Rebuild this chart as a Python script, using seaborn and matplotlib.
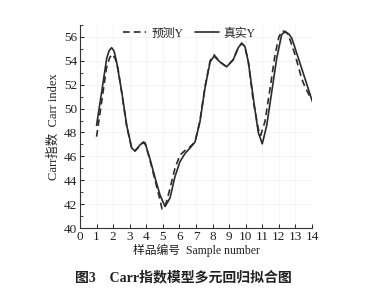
import matplotlib
matplotlib.use("Agg")
import matplotlib.pyplot as plt
import seaborn as sns
import pandas as pd
from matplotlib.ticker import MultipleLocator

# True values (solid)
true_x = [1.0, 1.31, 1.61, 1.76, 1.91, 2.06, 2.21, 2.52, 2.82, 3.12, 3.32, 3.62, 3.82, 3.92,
          4.22, 4.53, 4.83, 5.13, 5.43, 5.73, 6.03, 6.34, 6.64, 6.94, 7.24, 7.54, 7.85,
          8.09, 8.45, 8.85, 9.25, 9.55, 9.76, 9.95, 10.16, 10.46, 10.76, 11.0, 11.27, 11.57,
          11.87, 12.17, 12.29, 12.41, 12.6, 12.78, 13.18, 13.58, 14.02]
true_y = [48.6, 51.4, 54.2, 54.85, 55.1, 54.8, 53.9, 51.4, 48.6, 46.7, 46.45, 46.95, 47.2, 47.15,
          45.8, 44.2, 42.76, 41.8, 42.5, 44.3, 45.55, 46.25, 46.7, 47.2, 48.9, 51.7, 53.9,
          54.4, 53.9, 53.5, 54.1, 55.1, 55.47, 55.2, 53.9, 50.86, 48.0, 47.05, 48.6, 51.4,
          54.2, 56.2, 56.35, 56.4, 56.25, 55.9, 54.2, 52.5, 50.6]

# Predicted values (dashed)
pred_x = [1.0, 1.3, 1.6, 1.8, 1.97, 2.15, 2.3, 2.52, 2.82, 3.12, 3.32, 3.62, 3.82, 3.95,
          4.22, 4.53, 4.83, 4.95, 5.13, 5.43, 5.73, 6.03, 6.34, 6.64, 6.94, 7.24, 7.54,
          7.85, 8.09, 8.45, 8.85, 9.25, 9.55, 9.76, 9.95, 10.16, 10.46, 10.76, 10.9, 11.16,
          11.47, 11.77, 12.0, 12.2, 12.4, 12.57, 12.98, 13.38, 13.58, 13.88, 14.0]
pred_y = [47.65, 50.5, 53.4, 54.3, 54.55, 54.1, 53.3, 51.3, 48.5, 46.7, 46.45, 46.9, 47.15, 47.0,
          45.7, 44.0, 42.35, 41.6, 41.75, 43.3, 45.0, 46.1, 46.5, 46.8, 47.2, 49.0, 51.8,
          54.0, 54.5, 53.9, 53.5, 54.1, 55.1, 55.47, 55.2, 53.9, 50.6, 48.3, 47.75, 48.9,
          51.7, 54.5, 56.0, 56.5, 56.45, 56.2, 54.5, 52.5, 51.8, 51.0, 50.8]

series_labels = ["预测Y", "真实Y"]
x_ticks = list(range(0, 15))
y_ticks = list(range(40, 57, 2))

sns.set_theme(style="white")
plt.rcParams["font.family"] = ["Liberation Serif", "Noto Sans CJK SC"]
plt.rcParams["axes.unicode_minus"] = False

fig = plt.figure(figsize=(3.78, 2.89), dpi=100)
ax = fig.add_axes([0.2116, 0.211, 0.6138, 0.7025])

df_pred = pd.DataFrame({"x": pred_x, "y": pred_y})
df_true = pd.DataFrame({"x": true_x, "y": true_y})

col = "#2b2b2b"
sns.lineplot(data=df_pred, x="x", y="y", ax=ax, sort=False, color=col, lw=1.2,
             linestyle=(0, (4, 2.5)), label=series_labels[0])
sns.lineplot(data=df_true, x="x", y="y", ax=ax, sort=False, color=col, lw=1.2,
             label=series_labels[1])

ax.set_xlim(0, 14)
ax.set_ylim(40, 57)
ax.set_xticks(x_ticks)
ax.set_yticks(y_ticks)
ax.yaxis.set_minor_locator(MultipleLocator(1))
ax.tick_params(axis="both", which="major", direction="in", length=3, width=0.7,
               labelsize=9.5, colors="#222222", pad=2)
ax.tick_params(axis="y", which="minor", direction="in", length=2, width=0.6, left=True)
ax.tick_params(axis="x", bottom=True)
ax.tick_params(axis="y", left=True)

for s in ["top", "right"]:
    ax.spines[s].set_visible(False)
for s in ["left", "bottom"]:
    ax.spines[s].set_color("#333333")
    ax.spines[s].set_linewidth(0.8)

ax.grid(True, color="#f1f1f1", lw=0.5)
ax.set_axisbelow(True)

ax.set_xlabel("样品编号  Sample number", fontsize=8.5, color="#222222", labelpad=1)
ax.set_ylabel("Carr指数  Carr index", fontsize=9, color="#222222", labelpad=3)

leg = ax.legend(loc="upper center", bbox_to_anchor=(0.47, 1.04), ncol=2, frameon=False,
                fontsize=8.5, handlelength=2.0, columnspacing=1.0, handletextpad=0.4)
for t in leg.get_texts():
    t.set_color("#222222")

fig.text(0.485, 0.038, "图3　Carr指数模型多元回归拟合图", ha="center", va="center",
         fontsize=10, fontweight="bold", color="#222222")

fig.savefig("out.png", dpi=100)
